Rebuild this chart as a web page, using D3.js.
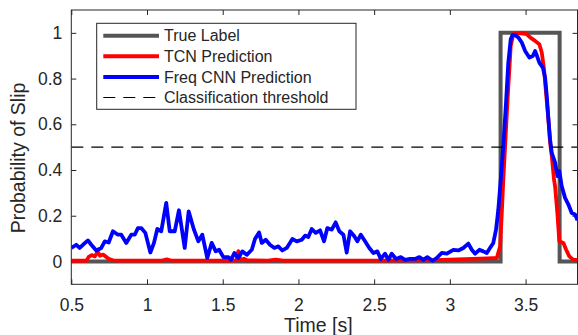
<!DOCTYPE html>
<html>
<head>
<meta charset="utf-8">
<script src="https://cdn.jsdelivr.net/npm/d3@7"></script>
<style>
  body { margin: 0; background: #fff; }
  svg text { font-family: "Liberation Sans", Arial, sans-serif; fill: #262626; }
</style>
</head>
<body>
<svg id="chart" width="578" height="335"></svg>
<script>

// ground truth (step)
let trueTime = [0.5, 3.335, 3.335, 3.725, 3.725, 3.843];
let trueProb = [0, 0, 1, 1, 0, 0];

// TCN prediction
let tcnTime = [0.5, 0.60, 0.615, 0.635, 0.655, 0.675, 0.69, 0.71, 0.73, 0.75, 0.78, 1.10, 1.13, 1.16,
    1.59, 1.603, 1.615, 1.64, 1.66, 1.80, 1.85, 1.90, 2.50, 2.90, 3.10, 3.25, 3.31,
    3.332, 3.343, 3.353, 3.365, 3.380, 3.393, 3.402, 3.419, 3.464, 3.508, 3.530, 3.563, 3.591,
    3.607, 3.622, 3.635, 3.651, 3.662, 3.673, 3.688, 3.695, 3.710, 3.723, 3.750, 3.768, 3.789, 3.816, 3.843];
let tcnProb = [0.003, 0.003, 0.02, 0.028, 0.022, 0.042, 0.025, 0.03, 0.02, 0.01, 0.004, 0.004, 0.009, 0.004,
    0.004, 0.045, 0.006, 0.012, 0.005, 0.004, 0.008, 0.004, 0.004, 0.006, 0.01, 0.013, 0.015,
    0.066, 0.212, 0.358, 0.504, 0.695, 0.841, 0.943, 0.994, 0.999, 0.994, 0.980, 0.965, 0.950,
    0.914, 0.841, 0.739, 0.621, 0.519, 0.461, 0.358, 0.329, 0.212, 0.088, 0.081, 0.051, 0.022, 0.007, 0.007];

// Freq CNN prediction
let cnnTime = [0.500, 0.533, 0.555, 0.577, 0.610, 0.632, 0.665, 0.698, 0.721, 0.747, 0.775, 0.808, 0.830,
    0.863, 0.896, 0.919, 0.940, 0.962, 0.989, 1.022, 1.046, 1.068, 1.094, 1.127, 1.150, 1.183, 1.211,
    1.249, 1.275, 1.310, 1.339, 1.365, 1.398, 1.427, 1.454, 1.476, 1.504, 1.537, 1.555, 1.577, 1.603,
    1.629, 1.659, 1.692, 1.713, 1.740, 1.758, 1.784, 1.812, 1.841, 1.867, 1.894, 1.923, 1.960, 1.989,
    2.022, 2.044, 2.065, 2.088, 2.114, 2.143, 2.169, 2.191, 2.220, 2.246, 2.270, 2.297, 2.319, 2.341,
    2.369, 2.389, 2.412, 2.440, 2.468, 2.495, 2.521, 2.544, 2.572, 2.594, 2.616, 2.645, 2.676, 2.704,
    2.737, 2.770, 2.799, 2.825, 2.851, 2.887, 2.913, 2.947, 2.980, 3.023, 3.056, 3.089, 3.122, 3.145,
    3.167, 3.195, 3.221, 3.244, 3.265, 3.287, 3.305, 3.320, 3.336, 3.353, 3.371, 3.386, 3.402, 3.413,
    3.431, 3.452, 3.475, 3.497, 3.525, 3.548, 3.563, 3.574, 3.591, 3.614, 3.629, 3.640, 3.651, 3.662,
    3.673, 3.695, 3.711, 3.723, 3.739, 3.761, 3.783, 3.805, 3.827, 3.843];
let cnnProb = [0.059, 0.073, 0.059, 0.073, 0.092, 0.073, 0.048, 0.059, 0.088, 0.083, 0.132, 0.117, 0.117,
    0.081, 0.117, 0.117, 0.146, 0.146, 0.125, 0.039, 0.081, 0.142, 0.132, 0.256, 0.132, 0.132, 0.224,
    0.059, 0.219, 0.139, 0.088, 0.117, 0.015, 0.081, 0.044, 0.051, 0.019, 0.019, 0.007, 0.037, 0.015,
    0.044, 0.029, 0.051, 0.098, 0.127, 0.081, 0.095, 0.073, 0.059, 0.066, 0.048, 0.059, 0.098, 0.088,
    0.095, 0.113, 0.107, 0.142, 0.125, 0.136, 0.088, 0.146, 0.139, 0.171, 0.132, 0.117, 0.039, 0.132,
    0.110, 0.088, 0.117, 0.088, 0.059, 0.037, 0.044, 0.011, 0.034, 0.007, 0.034, 0.011, 0.019, 0.007,
    0.011, 0.011, 0.019, 0.007, 0.019, 0.003, 0.015, 0.037, 0.034, 0.051, 0.048, 0.059, 0.078, 0.051,
    0.034, 0.051, 0.044, 0.037, 0.059, 0.081, 0.139, 0.227, 0.358, 0.504, 0.695, 0.870, 0.972, 0.990,
    0.990, 0.980, 0.958, 0.921, 0.892, 0.899, 0.921, 0.902, 0.870, 0.848, 0.804, 0.724, 0.621, 0.534,
    0.475, 0.432, 0.373, 0.395, 0.329, 0.278, 0.249, 0.212, 0.205, 0.180];

let threshold = 0.5;

let xTicks = [0.5, 1, 1.5, 2, 2.5, 3, 3.5];
let yTicks = [0, 0.2, 0.4, 0.6, 0.8, 1];

let legendNames = ["True Label", "TCN Prediction", "Freq CNN Prediction", "Classification threshold"];
let legendColors = ["#555555", "#ff0000", "#0000ff", "#000000"];

let svg = d3.select("svg#chart"),
    margin = {top: 10, right: 0.5, bottom: 50.7, left: 71.3},
    width = +svg.attr("width") - margin.left - margin.right,
    height = +svg.attr("height") - margin.top - margin.bottom,
    g = svg.append("g").attr("transform", "translate(" + margin.left + "," + margin.top + ")");

let x = d3.scaleLinear().domain([0.5, 3.843]).range([0, width]);
let y = d3.scaleLinear().domain([-0.1, 1.1]).range([height, 0]);

let line = d3.line()
    .x(function(d) { return x(d[0]); })
    .y(function(d) { return y(d[1]); });

g.append("defs").append("clipPath")
    .attr("id", "clip")
    .append("rect")
    .attr("width", width)
    .attr("height", height);

// axes with inward ticks, box on
let fmt = function(d) { return String(d); };
let axStyle = function(sel) {
    sel.select(".domain").remove();
    sel.selectAll("line").attr("stroke", "#262626");
    sel.selectAll("text").style("font-size", "17.5px").attr("fill", "#262626");
};
g.append("g")
    .attr("transform", "translate(0," + height + ")")
    .call(d3.axisBottom(x).tickValues(xTicks).tickFormat(fmt).tickSizeInner(-5).tickSizeOuter(0).tickPadding(14))
    .call(axStyle);
g.append("g")
    .call(d3.axisTop(x).tickValues(xTicks).tickFormat("").tickSizeInner(-5).tickSizeOuter(0))
    .call(axStyle);
g.append("g")
    .call(d3.axisLeft(y).tickValues(yTicks).tickFormat(fmt).tickSizeInner(-5).tickSizeOuter(0).tickPadding(9))
    .call(axStyle);
g.append("g")
    .attr("transform", "translate(" + width + ",0)")
    .call(d3.axisRight(y).tickValues(yTicks).tickFormat("").tickSizeInner(-5).tickSizeOuter(0))
    .call(axStyle);

let plot = g.append("g").attr("clip-path", "url(#clip)");

plot.append("path")
    .datum(d3.zip(trueTime, trueProb))
    .attr("d", line)
    .attr("fill", "none")
    .attr("stroke", legendColors[0])
    .attr("stroke-width", 4);

plot.append("path")
    .datum(d3.zip(tcnTime, tcnProb))
    .attr("d", line)
    .attr("fill", "none")
    .attr("stroke", legendColors[1])
    .attr("stroke-width", 3.8)
    .attr("stroke-linejoin", "round");

plot.append("path")
    .datum(d3.zip(cnnTime, cnnProb))
    .attr("d", line)
    .attr("fill", "none")
    .attr("stroke", legendColors[2])
    .attr("stroke-width", 3.8)
    .attr("stroke-linejoin", "round");

plot.append("line")
    .attr("x1", 0).attr("x2", width)
    .attr("y1", y(threshold)).attr("y2", y(threshold))
    .attr("stroke", legendColors[3])
    .attr("stroke-width", 1.2)
    .attr("stroke-dasharray", "12,8");

// box
g.append("rect")
    .attr("width", width)
    .attr("height", height)
    .attr("fill", "none")
    .attr("stroke", "#262626")
    .attr("stroke-width", 1);

// axis titles
g.append("text")
    .attr("x", width / 2 - 6)
    .attr("y", height + 48)
    .attr("text-anchor", "middle")
    .style("font-size", "19.5px")
    .text("Time [s]");
g.append("text")
    .attr("transform", "translate(" + (-46) + "," + (148) + ") rotate(-90)")
    .attr("text-anchor", "middle")
    .style("font-size", "19.5px")
    .text("Probability of Slip");

// legend
let lg = g.append("g").attr("transform", "translate(25.4,13.3)");
lg.append("rect")
    .attr("width", 259.3)
    .attr("height", 86)
    .attr("fill", "#fff")
    .attr("stroke", "#262626")
    .attr("stroke-width", 1);
let rows = lg.selectAll("g.entry")
    .data(legendNames)
    .enter().append("g")
    .attr("class", "entry")
    .attr("transform", function(d, i) { return "translate(0," + (12.4 + i * 20.6) + ")"; });
rows.append("line")
    .attr("x1", 6.6).attr("x2", 62.3)
    .attr("stroke", function(d, i) { return legendColors[i]; })
    .attr("stroke-width", function(d, i) { return i < 3 ? 4 : 1.2; })
    .attr("stroke-dasharray", function(d, i) { return i < 3 ? null : "12,8"; });
rows.append("text")
    .attr("x", 67.3)
    .attr("dy", "0.35em")
    .style("font-size", "16px")
    .text(function(d) { return d; });

</script>
</body>
</html>
